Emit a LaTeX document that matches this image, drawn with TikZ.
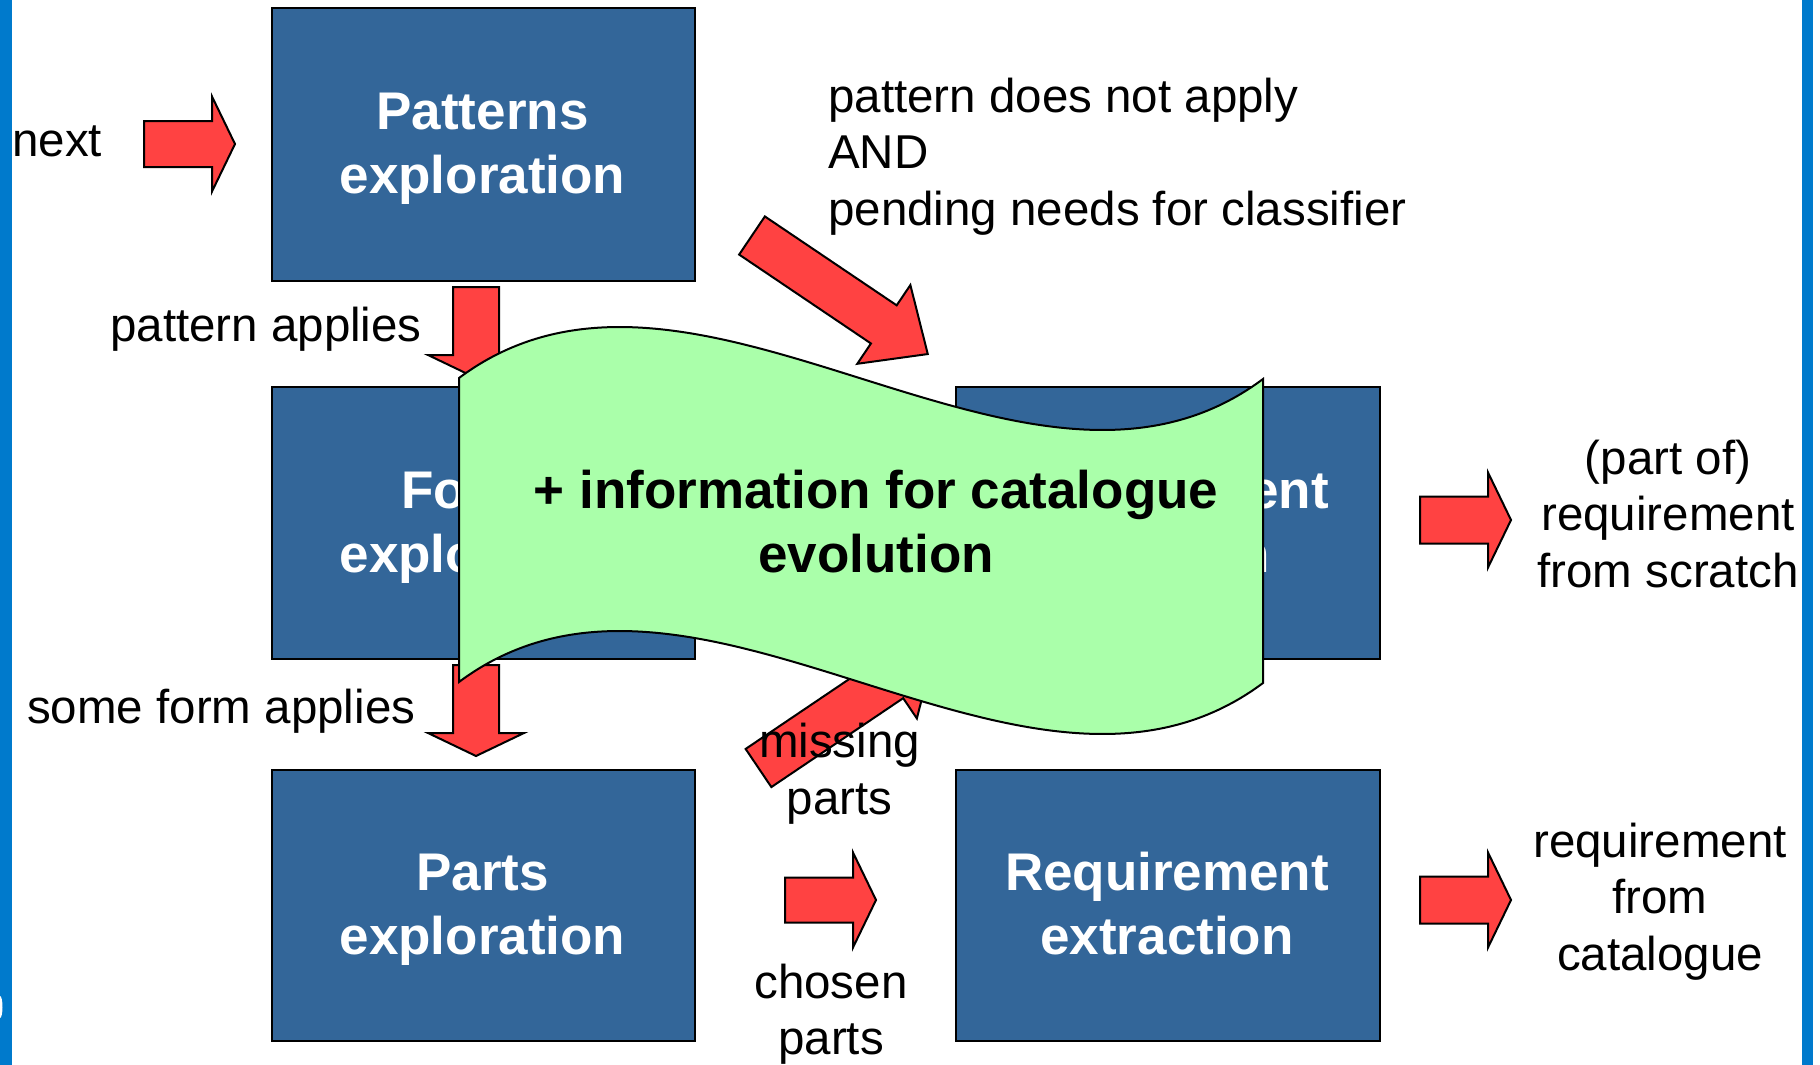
\documentclass[tikz,border=0pt]{standalone}
\usepackage{fontspec}
\setmainfont{Liberation Sans}
\definecolor{boxblue}{RGB}{51,102,153}
\definecolor{arrred}{RGB}{255,66,66}
\definecolor{bannergreen}{RGB}{170,255,170}
\definecolor{barblue}{RGB}{0,122,204}
\tikzset{
  stepbox/.style={draw=black, line width=2.2pt, fill=boxblue, inner sep=0pt, anchor=north west},
  redarrow/.style={draw=black, line width=2pt, fill=arrred, line join=miter},
  banner/.style={draw=black, line width=2pt, fill=bannergreen},
  boxtext/.style={text=white, font=\fontsize{53}{64}\selectfont\bfseries, inner sep=0pt, anchor=base},
  bantext/.style={text=black, font=\fontsize{53}{64}\selectfont\bfseries, inner sep=0pt, anchor=base},
  lbl/.style={text=black, font=\fontsize{47.5}{57}\selectfont, inner sep=0pt, anchor=base}
}
% block arrow: x y angle length headlength bodyhalf headhalf
\newcommand{\blockarr}[7]{%
  \begin{scope}[shift={(#1,#2)}, rotate=#3]
    \draw[redarrow] (0,-#6) -- ({#4-#5},-#6) -- ({#4-#5},-#7) -- (#4,0)
      -- ({#4-#5},#7) -- ({#4-#5},#6) -- (0,#6) -- cycle;
  \end{scope}}
\begin{document}
\begin{tikzpicture}[x=1pt,y=-1pt]
\useasboundingbox (0,0) rectangle (1820,1065);
\fill[white] (0,0) rectangle (1820,1065);
\fill[barblue] (0,0) rectangle (11.5,1065);
\fill[barblue] (1802,0) rectangle (1813,1065);
\fill[white] (0,1007) ellipse (2.5 and 11);

% boxes
\node[stepbox, minimum width=423pt, minimum height=273pt] (patt) at (271,7) {};
\node[stepbox, minimum width=423pt, minimum height=272pt] (form) at (271,386) {};
\node[stepbox, minimum width=423pt, minimum height=271pt] (parts) at (271,769) {};
\node[stepbox, minimum width=424pt, minimum height=272pt] (reqc) at (955,386) {};
\node[stepbox, minimum width=424pt, minimum height=271pt] (reqx) at (955,769) {};

\node[boxtext] (patt1) at (482.5,129.5) {Patterns};
\node[boxtext] (patt2) at (482.5,193.5) {exploration};
\node[boxtext] (form1) at (482.5,508) {Forms};
\node[boxtext] (form2) at (482.5,572) {exploration};
\node[boxtext] (parts1) at (482.5,890.5) {Parts};
\node[boxtext] (parts2) at (482.5,954.5) {exploration};
\node[boxtext] (reqc1) at (1167,508) {Requirement};
\node[boxtext] (reqc2) at (1167,572) {creation};
\node[boxtext] (reqx1) at (1167,890.5) {Requirement};
\node[boxtext] (reqx2) at (1167,954.5) {extraction};

% block arrows
\blockarr{144}{144}{0}{91}{23}{23}{47.5}
\blockarr{1420}{520}{0}{91}{23}{23.5}{47.5}
\blockarr{1420}{900}{0}{91}{23}{23.5}{47.5}
\blockarr{785}{900}{0}{91}{23}{22.5}{47.5}
\blockarr{476}{287}{-90}{91}{23}{23}{48}
\blockarr{476}{665}{-90}{91}{23}{23}{48}
\blockarr{752}{235.5}{-34}{212}{53}{23}{47.5}
\blockarr{758.5}{768}{34}{212}{53}{23}{47.5}

% wave banner
\draw[banner] (459,378) .. controls (696,201) and (1026,556) .. (1263,379)
  -- (1263,683) .. controls (1026,860) and (696,505) .. (459,682) -- cycle;
\node[bantext] (ban1) at (876,508) {+ information for catalogue};
\node[bantext] (ban2) at (876,572) {evolution};

% labels
\node[lbl, anchor=base west] (next) at (12,156) {next};
\node[lbl, anchor=base east] (papp) at (422,341) {pattern applies};
\node[lbl, anchor=base west] (sfa) at (27,723) {some form applies};
\node[lbl, anchor=base west] (pdna1) at (828,112) {pattern does not apply};
\node[lbl, anchor=base west] (pdna2) at (828,168) {AND};
\node[lbl, anchor=base west] (pdna3) at (828,225) {pending needs for classifier};
\node[lbl] (pos1) at (1668,474) {(part of)};
\node[lbl] (pos2) at (1668,530) {requirement};
\node[lbl] (pos3) at (1668,587) {from scratch};
\node[lbl] (rfc1) at (1660,857) {requirement};
\node[lbl] (rfc2) at (1660,913) {from};
\node[lbl] (rfc3) at (1660,970) {catalogue};
\node[lbl] (miss1) at (839.5,757) {missing};
\node[lbl] (miss2) at (839.5,814) {parts};
\node[lbl] (chos1) at (831,998) {chosen};
\node[lbl] (chos2) at (831,1054) {parts};
\end{tikzpicture}
\end{document}
